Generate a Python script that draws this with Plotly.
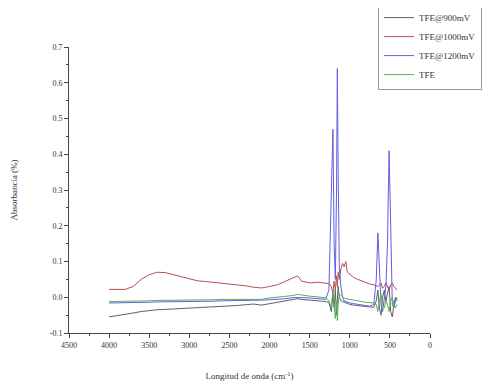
import plotly.graph_objects as go

wavenumber = [4000, 3900, 3800, 3700, 3600, 3500, 3400, 3300, 3200, 3100, 3000, 2900, 2800, 2700,
              2600, 2500, 2400, 2300, 2200, 2100, 2000, 1900, 1800, 1700, 1650, 1600, 1500, 1400,
              1300, 1260, 1230, 1210, 1195, 1180, 1165, 1155, 1145, 1130, 1110, 1090, 1070, 1050,
              1030, 1000, 950, 900, 850, 800, 750, 700, 670, 650, 630, 610, 590, 570, 550, 530,
              510, 490, 470, 450, 430, 410]

tfe_900 = [-0.055, -0.052, -0.048, -0.044, -0.040, -0.037, -0.035, -0.034, -0.033, -0.032, -0.031, -0.030,
           -0.029, -0.027, -0.026, -0.025, -0.023, -0.021, -0.019, -0.022, -0.018, -0.014, -0.010, -0.006,
           -0.004, -0.006, -0.008, -0.010, -0.012, -0.015, -0.040, 0.010, -0.030, 0.020, -0.050, -0.010,
           0.030, 0.000, -0.010, -0.012, -0.014, -0.016, -0.018, -0.020, -0.022, -0.024, -0.025, -0.026,
           -0.027, -0.028, -0.010, 0.020, -0.030, -0.050, 0.000, 0.020, -0.010, 0.010, 0.030, -0.040,
           -0.055, -0.020, 0.000, -0.010]

tfe_1000 = [0.022, 0.021, 0.022, 0.030, 0.050, 0.063, 0.070, 0.069, 0.063, 0.056, 0.050, 0.046,
            0.044, 0.042, 0.040, 0.037, 0.035, 0.032, 0.028, 0.026, 0.030, 0.035, 0.045, 0.055,
            0.060, 0.045, 0.040, 0.042, 0.040, 0.038, 0.030, 0.010, 0.045, 0.020, 0.060, 0.030,
            0.070, 0.050, 0.080, 0.095, 0.085, 0.100, 0.070, 0.065, 0.055, 0.050, 0.045, 0.040,
            0.037, 0.035, 0.033, 0.030, 0.035, 0.040, 0.025, 0.030, 0.040, 0.030, 0.020, 0.035,
            0.040, 0.030, 0.025, 0.020]

tfe_1200 = [-0.016, -0.016, -0.015, -0.015, -0.014, -0.014, -0.013, -0.013, -0.013, -0.012, -0.012, -0.012,
            -0.011, -0.011, -0.010, -0.010, -0.009, -0.009, -0.008, -0.008, -0.007, -0.006, -0.004, -0.001,
            0.000, -0.001, -0.002, -0.004, -0.006, 0.020, 0.250, 0.470, 0.150, 0.050, 0.300, 0.640,
            0.350, 0.080, 0.030, 0.000, -0.010, -0.012, -0.014, -0.016, -0.018, -0.020, -0.022, -0.024,
            -0.025, -0.020, 0.050, 0.180, 0.080, -0.020, -0.040, 0.000, 0.030, 0.150, 0.410, 0.200,
            -0.020, -0.030, -0.010, 0.000]

tfe = [-0.012, -0.012, -0.011, -0.011, -0.010, -0.010, -0.009, -0.009, -0.009, -0.008, -0.008, -0.008,
       -0.007, -0.007, -0.006, -0.006, -0.005, -0.005, -0.004, -0.006, -0.002, 0.000, 0.002, 0.005,
       0.008, 0.006, 0.003, 0.001, -0.002, -0.010, -0.030, 0.020, -0.020, -0.060, -0.010, -0.065,
       -0.020, 0.010, 0.005, 0.000, -0.002, -0.004, -0.005, -0.006, -0.008, -0.010, -0.012, -0.014,
       -0.015, -0.016, -0.020, -0.040, -0.010, 0.010, -0.020, -0.030, -0.010, -0.020, -0.040, -0.010,
       0.000, -0.020, -0.030, -0.020]

series = [
    ("TFE@900mV", tfe_900, "#606060"),
    ("TFE@1000mV", tfe_1000, "#b85050"),
    ("TFE@1200mV", tfe_1200, "#6060e0"),
    ("TFE", tfe, "#55b055"),
]

fig = go.Figure()
for name, vals, col in series:
    fig.add_trace(go.Scatter(x=wavenumber, y=vals, mode="lines", name=name,
                             line=dict(color=col, width=1)))

font = "Liberation Serif, Times New Roman, serif"
fig.update_layout(
    width=500, height=383,
    margin=dict(l=61, r=78, t=39, b=58, autoexpand=False),
    paper_bgcolor="white", plot_bgcolor="white",
    font=dict(family=font, size=8, color="#333"),
    showlegend=True,
    legend=dict(x=0.856, y=1.157, xanchor="left", yanchor="top",
                bordercolor="#999", borderwidth=1, bgcolor="white",
                font=dict(family=font, size=9, color="#333"),
                tracegroupgap=0, itemwidth=30),
    xaxis=dict(range=[4500, 0], tickmode="array",
               tickvals=[4500, 4000, 3500, 3000, 2500, 2000, 1500, 1000, 500, 0],
               ticks="outside", ticklen=4, tickcolor="#444",
               minor=dict(ticks="outside", ticklen=2, dtick=250, tickcolor="#444"),
               showline=True, linecolor="#444", linewidth=1, showgrid=False, zeroline=False,
               title=dict(text="Longitud de onda (cm<sup>-1</sup>)", font=dict(size=9), standoff=24)),
    yaxis=dict(range=[-0.1, 0.7], tickmode="array",
               tickvals=[-0.1, 0.0, 0.1, 0.2, 0.3, 0.4, 0.5, 0.6, 0.7],
               ticktext=["-0.1", "0.0", "0.1", "0.2", "0.3", "0.4", "0.5", "0.6", "0.7"],
               ticks="outside", ticklen=4, tickcolor="#444",
               minor=dict(ticks="outside", ticklen=2, dtick=0.05, tickcolor="#444"),
               showline=True, linecolor="#444", linewidth=1, showgrid=False, zeroline=False,
               title=dict(text="Absorbancia (%)", font=dict(size=9), standoff=30)),
)

fig.write_html("out.html")
